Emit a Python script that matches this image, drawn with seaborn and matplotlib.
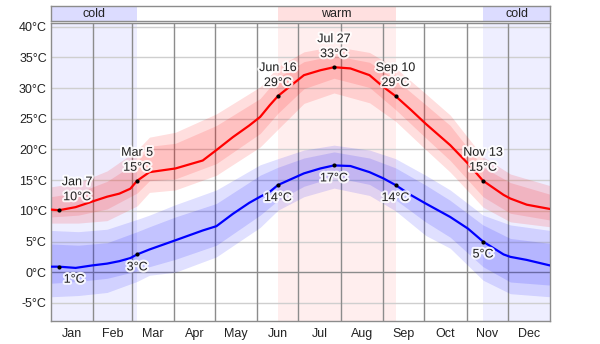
import matplotlib
matplotlib.use("Agg")
import matplotlib.pyplot as plt
import matplotlib.patheffects as pe
import numpy as np
import pandas as pd
import seaborn as sns

# Daily high / low temperature (°C) through the year, day-of-year knots
days_line = [0, 6, 18, 30, 41, 50, 58, 63, 72, 91, 111, 121, 133, 145, 153, 160,
             166, 185, 197, 207, 219, 233, 243, 252, 263, 274, 292, 305, 316, 331,
             336, 348, 365]
high = [10.2, 10.1, 10.6, 11.5, 12.3, 12.8, 13.6, 14.9, 16.3, 16.9, 18.2, 19.9,
        22.0, 23.9, 25.3, 27.2, 28.7, 32.1, 32.9, 33.4, 33.2, 32.1, 30.2, 28.7,
        26.5, 24.2, 20.7, 17.7, 14.9, 12.6, 12.0, 11.0, 10.3]
low = [0.9, 0.9, 0.7, 1.1, 1.4, 1.8, 2.3, 2.9, 3.7, 5.2, 6.8, 7.5, 9.5, 11.3,
       12.3, 13.1, 14.2, 16.1, 16.9, 17.4, 17.3, 16.3, 15.3, 14.2, 12.6, 11.2,
       9.0, 7.1, 5.0, 2.9, 2.5, 2.0, 1.1]

# Percentile bands (10th / 25th / 75th / 90th)
days_band = [0, 20, 41, 63, 72, 91, 121, 153, 166, 185, 207, 233, 252, 274, 292,
             316, 336, 365]
high_p10 = [8.0, 8.0, 8.4, 10.8, 13.0, 13.4, 15.8, 20.4, 23.3, 27.5, 29.2, 27.6,
            24.6, 20.0, 16.3, 10.6, 8.2, 7.4]
high_p25 = [9.0, 9.3, 10.3, 12.9, 14.9, 15.2, 17.7, 22.6, 25.9, 29.9, 31.6, 30.1,
            26.5, 21.9, 18.2, 12.3, 9.6, 8.5]
high_p75 = [12.3, 13.0, 14.8, 18.0, 20.5, 21.0, 23.9, 28.3, 31.7, 34.3, 35.3,
            34.2, 31.4, 27.3, 23.9, 17.1, 14.6, 12.7]
high_p90 = [13.9, 14.6, 16.5, 19.9, 22.0, 22.8, 25.8, 30.2, 33.5, 35.9, 36.8,
            35.8, 33.3, 29.1, 25.6, 18.8, 16.0, 14.1]
low_p10 = [-4.0, -3.8, -3.3, -1.5, -0.5, 0.0, 2.5, 7.3, 10.1, 12.3, 13.7, 12.5,
           10.0, 6.0, 3.9, -1.3, -3.5, -4.0]
low_p25 = [-1.8, -1.5, -1.0, 0.2, 0.9, 2.1, 4.4, 9.3, 11.7, 14.0, 15.5, 14.3,
           11.8, 8.2, 5.7, 0.9, -1.6, -2.1]
low_p75 = [4.6, 4.4, 4.8, 6.6, 7.4, 9.0, 11.2, 15.8, 17.1, 18.6, 19.6, 18.6,
           17.0, 14.2, 11.7, 7.7, 5.5, 4.7]
low_p90 = [6.8, 6.6, 7.0, 8.6, 9.3, 11.0, 13.4, 17.5, 18.5, 19.9, 20.7, 19.9,
           18.5, 15.8, 13.4, 9.3, 7.7, 6.8]

# Annotated dates
mark_days = [6, 63, 166, 207, 252, 316]
mark_names = ["Jan 7", "Mar 5", "Jun 16", "Jul 27", "Sep 10", "Nov 13"]

# Seasons (day-of-year ranges)
cold_seasons = [(0, 63), (316, 365)]
warm_seasons = [(166, 252)]

months = ["Jan", "Feb", "Mar", "Apr", "May", "Jun", "Jul", "Aug", "Sep", "Oct",
          "Nov", "Dec"]
month_starts = [0, 31, 59, 90, 120, 151, 181, 212, 243, 273, 304, 334, 365]
y_ticks = [-5, 0, 5, 10, 15, 20, 25, 30, 35, 40]

sns.set_style("white")
plt.rcParams["font.family"] = ["Liberation Sans", "DejaVu Sans"]
plt.rcParams["font.size"] = 9

W, H = 600, 344
fig = plt.figure(figsize=(W / 100, H / 100), dpi=100)
ax = fig.add_axes([51 / W, 23 / H, 499 / W, 298 / H])
strip = fig.add_axes([51 / W, (H - 21) / H, 499 / W, 15 / H])

GRID_DARK = "#8c8c8c"
GRID_LIGHT = "#cfcfcf"
TXT = "#222222"

# Season shading
for a, b in cold_seasons:
    ax.axvspan(a, b, color="#eeeeff", zorder=0, lw=0)
    strip.axvspan(a, b, color="#dcdcff", zorder=0, lw=0)
for a, b in warm_seasons:
    ax.axvspan(a, b, color="#ffeeee", zorder=0, lw=0)
    strip.axvspan(a, b, color="#ffe0e0", zorder=0, lw=0)

# Grid
for t in y_ticks:
    ax.axhline(t, color=GRID_DARK if t == 0 else GRID_LIGHT, lw=1, zorder=1)
for d in month_starts[1:-1]:
    ax.axvline(d, color=GRID_DARK, lw=1, zorder=1)

# Percentile bands
ax.fill_between(days_band, high_p10, high_p90, color="#ff0000", alpha=0.13, lw=0, zorder=2)
ax.fill_between(days_band, high_p25, high_p75, color="#ff0000", alpha=0.13, lw=0, zorder=2)
ax.fill_between(days_band, low_p10, low_p90, color="#0000ff", alpha=0.12, lw=0, zorder=2)
ax.fill_between(days_band, low_p25, low_p75, color="#0000ff", alpha=0.13, lw=0, zorder=2)

df = pd.DataFrame({"day": days_line, "high": high, "low": low})
sns.lineplot(data=df, x="day", y="high", color="#ff0000", lw=1.6, ax=ax,
             estimator=None, zorder=4)
sns.lineplot(data=df, x="day", y="low", color="#0000ff", lw=1.6, ax=ax,
             estimator=None, zorder=4)

# Marked points with labels
halo = [pe.withStroke(linewidth=3, foreground=(1, 1, 1, 0.85))]
for d, name in zip(mark_days, mark_names):
    i = days_line.index(d)
    hv, lv = high[i], low[i]
    dx_hi = 18 if d < 20 else 0
    dx_lo = 15 if d < 20 else 0
    ax.scatter([d, d], [hv, lv], s=9, color="black", zorder=6, lw=0)
    ax.annotate(name, (d, hv), xytext=(dx_hi, 28), textcoords="offset pixels",
                ha="center", va="center", color=TXT, path_effects=halo, zorder=7)
    ax.annotate(f"{hv:.0f}°C", (d, hv), xytext=(dx_hi, 13), textcoords="offset pixels",
                ha="center", va="center", color=TXT, path_effects=halo, zorder=7)
    ax.annotate(f"{lv:.0f}°C", (d, lv), xytext=(dx_lo, -13), textcoords="offset pixels",
                ha="center", va="center", color=TXT, path_effects=halo, zorder=7)

ax.set_xlim(0, 365)
ax.set_ylim(-7.95, 40.6)
mid = [(month_starts[i] + month_starts[i + 1]) / 2 for i in range(12)]
ax.set_xticks(mid)
ax.set_xticklabels(months)
ax.set_yticks(y_ticks)
ax.set_yticklabels([f"{t}°C" for t in y_ticks])
ax.tick_params(axis="both", length=0, colors=TXT, labelsize=9)
ax.tick_params(axis="x", pad=5)
ax.tick_params(axis="y", pad=3)
ax.set_xlabel("")
ax.set_ylabel("")
for s in ["left", "bottom", "right", "top"]:
    ax.spines[s].set_color(GRID_DARK)
    ax.spines[s].set_linewidth(1)

# Season strip
strip.set_xlim(0, 365)
strip.set_ylim(0, 1)
strip.set_xticks([])
strip.set_yticks([])
for s in strip.spines.values():
    s.set_color(GRID_DARK)
    s.set_linewidth(1)
for a, b in cold_seasons:
    strip.text((a + b) / 2, 0.45, "cold", ha="center", va="center", color=TXT)
for a, b in warm_seasons:
    strip.text((a + b) / 2, 0.45, "warm", ha="center", va="center", color=TXT)

fig.savefig("out.png", dpi=100)
